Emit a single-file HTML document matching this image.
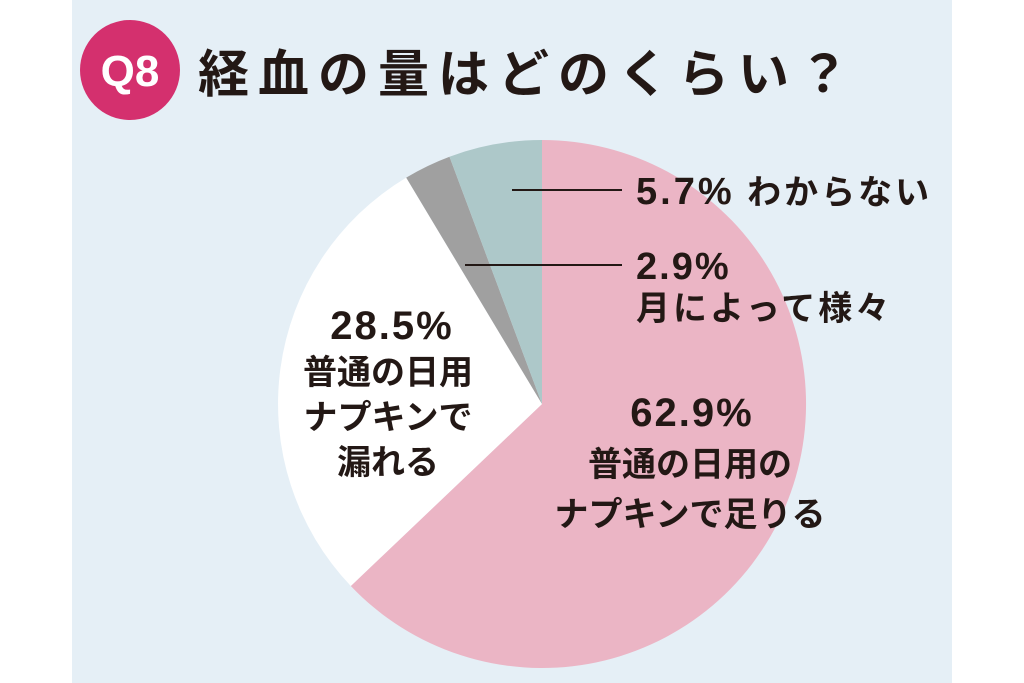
<!DOCTYPE html>
<html><head><meta charset="utf-8"><style>
html,body{margin:0;padding:0;background:#fff;}
body{width:1024px;height:683px;overflow:hidden;}
</style></head><body>
<svg width="1024" height="683" xmlns="http://www.w3.org/2000/svg" style="display:block">
<rect x="0" y="0" width="1024" height="683" fill="#fff"/>
<rect x="72" y="0" width="880" height="683" fill="#e5eff6"/>
<circle cx="130" cy="70" r="50" fill="#d4306e"/>
<text x="130" y="86" text-anchor="middle" font-family="Liberation Sans, sans-serif" font-weight="bold" font-size="44" fill="#fff">Q8</text>
<text x="198" y="92" font-family="Liberation Sans, 'Noto Sans CJK JP', sans-serif" font-weight="bold" font-size="51" letter-spacing="9" fill="#231815">経血の量はどのくらい？</text>
<g>
<path d="M542,404 L542,140 A264,264 0 1 1 350.8,586 Z" fill="#ebb5c5"/>
<path d="M542,404 L350.8,586 A264,264 0 0 1 406.2,177.6 Z" fill="#ffffff"/>
<path d="M542,404 L406.2,177.6 A264,264 0 0 1 449.5,156.7 Z" fill="#a0a0a0"/>
<path d="M542,404 L449.5,156.7 A264,264 0 0 1 542,140 Z" fill="#adc8c9"/>
</g>
<line x1="512" y1="190" x2="622" y2="190" stroke="#231815" stroke-width="2"/>
<line x1="465" y1="265" x2="622" y2="265" stroke="#231815" stroke-width="2"/>
<g font-family="Liberation Sans, 'Noto Sans CJK JP', sans-serif" font-weight="bold" font-size="34" fill="#231815">
<text x="636" y="204" letter-spacing="3"><tspan font-size="38">5.7%</tspan> わからない</text>
<text x="636" y="279" font-size="38" letter-spacing="2">2.9%</text>
<text x="636" y="320" letter-spacing="3">月によって様々</text>
<g text-anchor="middle">
<text x="392" y="339" font-size="40" letter-spacing="2">28.5%</text>
<text x="388" y="384">普通の日用</text>
<text x="388" y="429">ナプキンで</text>
<text x="388" y="474">漏れる</text>
<text x="692" y="426" font-size="40" letter-spacing="2">62.9%</text>
<text x="690" y="476">普通の日用の</text>
<text x="690" y="526">ナプキンで足りる</text>
</g>
</g>
</svg>
</body></html>
